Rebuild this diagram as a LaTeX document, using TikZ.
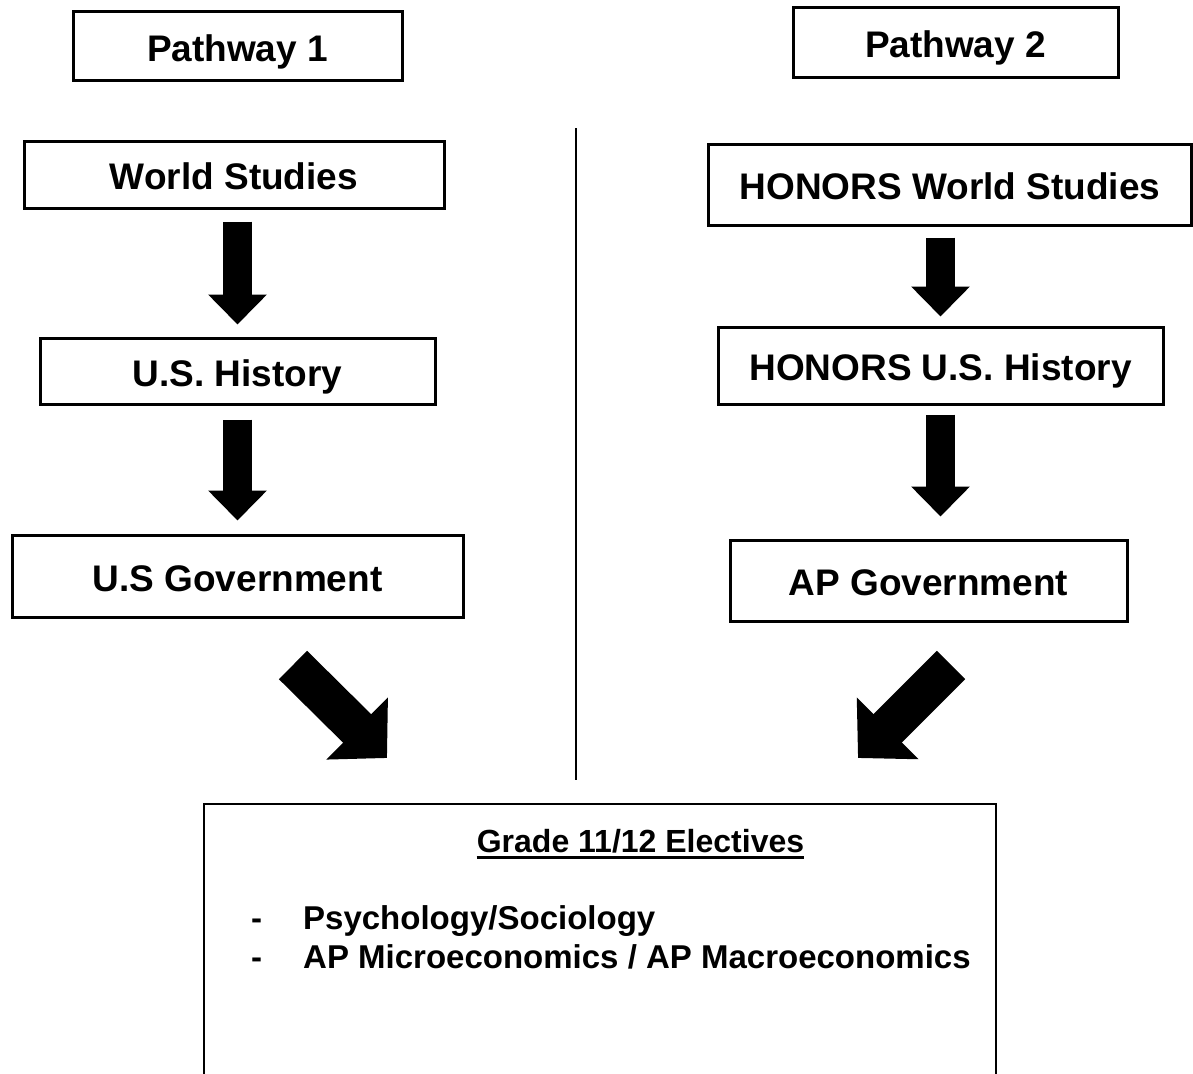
\documentclass[tikz,border=0pt]{standalone}
\usepackage{fontspec}
\setmainfont{Liberation Sans}
\usetikzlibrary{arrows.meta}

\begin{document}
\begin{tikzpicture}[x=1pt,y=-1pt,
    course/.style={draw,line width=3pt,inner sep=0pt,text height=30pt,text depth=0pt,font=\fontsize{37}{44}\selectfont\bfseries},
    downarrow/.style={line width=29pt,-{Triangle[length=30pt,width=57pt]}},
    slantarrow/.style={line width=40pt,-{Triangle[length=42pt,width=85pt]}}]
  \useasboundingbox (0,0) rectangle (1193,1073);
  \clip (0,0) rectangle (1193,1073);
  % pathway headers
  \node[course,minimum width=329pt,minimum height=68pt] (p1) at (237.5,46) {Pathway 1};
  \node[course,minimum width=325pt,minimum height=69pt] (p2) at (955.5,42.5) {Pathway 2};
  % pathway 1
  \node[course,minimum width=420pt,minimum height=67pt] (ws) at (234,174.5) {World Studies};
  \node[course,minimum width=395pt,minimum height=66pt] (ush) at (237.5,371) {U.S. History};
  \node[course,minimum width=451pt,minimum height=82pt] (usg) at (237.5,576) {U.S Government};
  % pathway 2
  \node[course,minimum width=483pt,minimum height=81pt] (hws) at (950,184.5) {HONORS World Studies};
  \node[course,minimum width=445pt,minimum height=77pt] (hush) at (940.5,365.5) {HONORS U.S. History};
  \node[course,minimum width=397pt,minimum height=81pt] (apg) at (928.5,580.5) {AP Government};
  % electives
  \node[draw,line width=2pt,anchor=north west,minimum width=792pt,minimum height=300pt] (elec) at (203,803) {};
  \node[inner sep=0pt,anchor=base,font=\fontsize{32}{39}\selectfont\bfseries] (eltitle) at (640.5,852) {Grade 11/12 Electives};
  \node[inner sep=0pt,anchor=base west,font=\fontsize{33}{39}\selectfont\bfseries] (elist) at (251,929)
    {\begin{tabular}[t]{@{}l@{\hspace{41pt}}l@{}}
      - & Psychology/Sociology\\
      - & AP Microeconomics / AP Macroeconomics
    \end{tabular}};
  \draw[line width=3pt] ([yshift=-5pt]eltitle.base west) -- ([yshift=-5pt]eltitle.base east);%
  % divider
  \coordinate (divtop) at (576,128);
  \coordinate (divbot) at (576,780);
  \draw[line width=2pt] (divtop) -- (divbot);%
  % arrows
  \draw[downarrow,shorten <=12pt,shorten >=12pt] (ush.north |- ws.south) -- (ush.north);%
  \draw[downarrow,shorten <=14pt,shorten >=13pt] (ush.south) -- (ush.south |- usg.north);%
  \draw[downarrow,shorten <=11pt,shorten >=9pt] (hush.north |- hws.south) -- (hush.north);%
  \draw[downarrow,shorten <=9pt,shorten >=22pt] (hush.south) -- (hush.south |- apg.north);%
  \coordinate (lfrom) at (293,665);
  \coordinate (lto) at (387,758);
  \coordinate (rfrom) at (951,665);
  \coordinate (rto) at (858,758);
  \draw[slantarrow] (lfrom) -- (lto);%
  \draw[slantarrow] (rfrom) -- (rto);%
\end{tikzpicture}
\end{document}
